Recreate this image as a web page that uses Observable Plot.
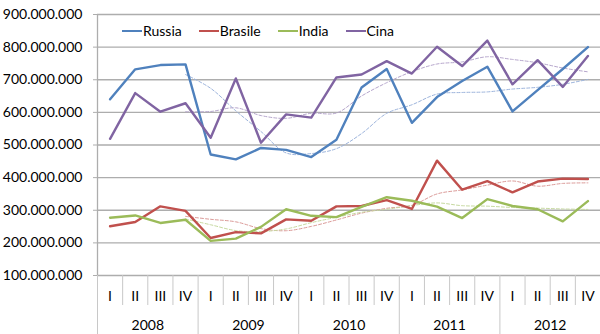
<!DOCTYPE html>
<html><head><meta charset="utf-8">
<script src="https://cdn.jsdelivr.net/npm/d3@7"></script>
<script src="https://cdn.jsdelivr.net/npm/@observablehq/plot@0.6"></script>
<style>
body{margin:0;background:#fff;font-family:Lato,sans-serif}
#wrap{position:relative;width:600px;height:334px}
#legend{position:absolute;left:122px;top:22px;display:flex;font-size:14px;color:#000;line-height:18px}
#legend .item{display:flex;align-items:center;margin-right:17px}
#legend .sw{width:20px;height:2px;margin-right:1px}
</style>
</head><body><div id="wrap"><div id="chart"></div><div id="legend"></div></div>
<script>
const years = ["2008","2009","2010","2011","2012"];
const quarters = ["I","II","III","IV"];
const series = ["Russia","Brasile","India","Cina"];
const colors = ["#4F81BD","#C0504D","#9BBB59","#8064A2"];
const trendColors = ["#9DB4DC","#DB9A98","#C6D99F","#B6A6CC"];
const russia  = [640,732,745,747, 471,456,491,485, 463,516,676,733, 568,647,696,740, 603,668,733,800];
const brasile = [251,264,312,298, 215,233,229,272, 268,312,313,331, 304,452,363,389, 355,388,397,396];
const india   = [277,284,261,271, 206,213,249,303, 283,279,310,340, 329,311,276,334, 313,303,266,328];
const cina    = [519,659,602,628, 522,704,507,594, 584,707,716,757, 719,801,742,820, 686,760,678,773];
const yTicks = [100,200,300,400,500,600,700,800,900];

const valuesBySeries = [russia, brasile, india, cina];
const rows = [];
series.forEach((s, k) => valuesBySeries[k].forEach((v, i) => rows.push({series: s, i, value: v * 1e6})));

const nQ = years.length * quarters.length;
const qIdx = d3.range(nQ);
const qBounds = d3.range(nQ + 1).map(i => i - 0.5).filter(b => (b + 0.5) % quarters.length !== 0);
const yBounds = d3.range(years.length + 1).map(j => j * quarters.length - 0.5);
const yCenters = years.map((y, j) => j * quarters.length + (quarters.length - 1) / 2);

const loc = d3.formatLocale({decimal: ",", thousands: ".", grouping: [3], currency: ["", "€"]});
const fmt = loc.format(",d");

const grid = "#ADADAD";
const chart = Plot.plot({
  width: 600, height: 334,
  marginTop: 14, marginBottom: 59, marginLeft: 97, marginRight: 0,
  style: {fontFamily: "Lato, sans-serif", fontSize: "14px", color: "#000", background: "#fff"},
  x: {type: "linear", domain: [-0.5, nQ - 0.5]},
  y: {domain: [yTicks[0] * 1e6, yTicks[yTicks.length - 1] * 1e6]},
  color: {domain: series, range: colors},
  marks: [
    Plot.ruleY(yTicks.map(t => t * 1e6), {stroke: grid, strokeWidth: 1.3}),
    Plot.axisY({ticks: yTicks.map(t => t * 1e6), tickFormat: fmt, tickSize: 4, tickPadding: 11, stroke: grid, fontSize: 14, label: null}),
    Plot.ruleX([-0.5], {stroke: grid, strokeWidth: 1.3}),
    Plot.axisX({ticks: qBounds, tickSize: 30, tickFormat: () => "", stroke: "#C8C8C8", label: null}),
    Plot.axisX({ticks: yBounds, tickSize: 59, tickFormat: () => "", stroke: "#C8C8C8", label: null}),
    Plot.axisX({ticks: qIdx, tickSize: 0, tickPadding: 16, tickFormat: i => quarters[i % quarters.length], fontSize: 14, label: null}),
    Plot.axisX({ticks: yCenters, tickSize: 0, tickPadding: 45, tickFormat: c => years[Math.round((c - 1.5) / quarters.length)], fontSize: 14, label: null}),
    ...series.map((s, k) => Plot.line(rows.filter(r => r.series === s), Plot.windowY({k: 4, anchor: "end", reduce: "mean", strict: true}, {
      x: "i", y: "value", stroke: trendColors[k], strokeWidth: 1, strokeDasharray: "3,2", curve: "catmull-rom"
    }))),
    Plot.line(rows, {x: "i", y: "value", z: "series", stroke: "series", strokeWidth: 2.4, strokeLinejoin: "round"})
  ]
});
document.getElementById("chart").append(chart);

const leg = document.getElementById("legend");
series.forEach((s, k) => {
  const it = document.createElement("div"); it.className = "item";
  const sw = document.createElement("span"); sw.className = "sw"; sw.style.background = colors[k];
  const tx = document.createElement("span"); tx.textContent = s;
  it.append(sw, tx); leg.append(it);
});
</script>
</body></html>
